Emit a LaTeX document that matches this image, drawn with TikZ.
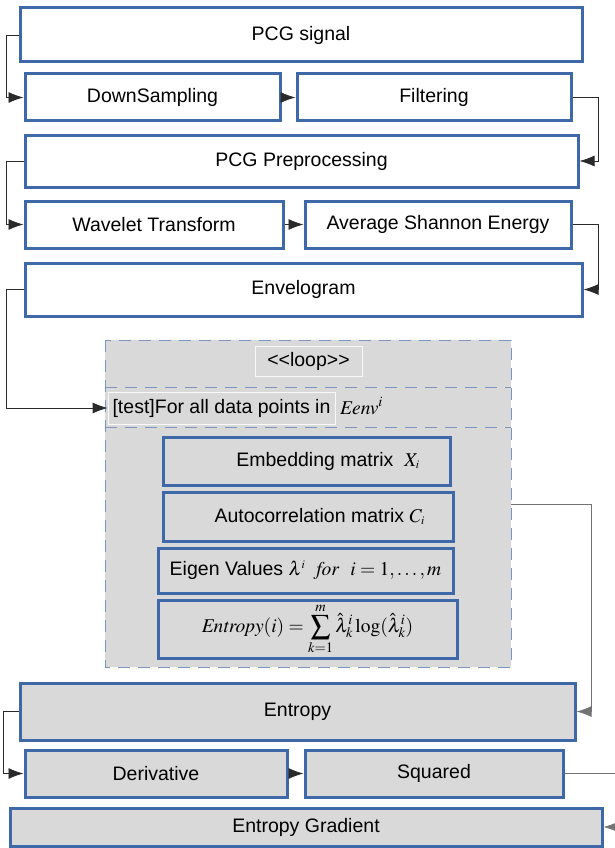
\documentclass[tikz,border=0pt]{standalone}
\usepackage{mathptmx}
\usepackage[no-math]{fontspec}
\setmainfont{Liberation Sans}
\usetikzlibrary{arrows.meta}
\definecolor{bblue}{HTML}{3F68A8}
\definecolor{gfill}{HTML}{D9D9D9}
\definecolor{dashc}{HTML}{7A96BE}
\definecolor{lnc}{HTML}{2A2A2A}
\newcommand\bx[7]{\node[#7, minimum width={(#4-#2)*1pt}, minimum height={(#5-#3)*1pt}] (#1) at ({(#2+#4)/2},{(#3+#5)/2}) {#6};}
\tikzset{
  wbox/.style={draw=bblue, line width=3pt, fill=white, inner sep=0pt, font=\fontsize{19.5}{23}\selectfont},
  gbox/.style={wbox, fill=gfill},
  lbox/.style={draw=white!95!gray, line width=0.8pt, fill=gfill, inner sep=0pt, font=\fontsize{19.5}{23}\selectfont},
  conn/.style={draw=lnc, line width=0.8pt, -{Latex[length=15pt,width=11pt]}},
  gconn/.style={conn, draw=gray!90!black}
}
\begin{document}
\begin{tikzpicture}[x=1pt,y=-1pt]
\useasboundingbox (0,0) rectangle (615,848);
% top part
\bx{sig}{20}{8}{582}{62}{PCG signal}{wbox}
\bx{down}{25}{74}{280}{121}{DownSampling}{wbox}
\bx{filt}{297}{74}{571}{121}{Filtering}{wbox}
\bx{pre}{25}{135}{578}{187}{PCG Preprocessing}{wbox}
\bx{wav}{25}{201}{283}{248}{Wavelet Transform}{wbox}
\bx{ase}{305}{201}{571}{248}{Average Shannon Energy}{wbox}
\bx{env}{25}{263}{582}{316}{Envelogram}{wbox}
% loop frame
\fill[gfill] (105,340) rectangle (511,667);
\draw[dashc, line width=0.8pt, dash pattern=on 12pt off 8pt] (105,340) rectangle (511,667);
\draw[dashc, line width=0.8pt, dash pattern=on 12pt off 8pt] (105,387) -- (511,387);
\draw[dashc, line width=0.8pt, dash pattern=on 12pt off 8pt] (105,427) -- (511,427);
\coordinate (loopR) at (511,504);
\bx{loop}{255}{346}{362}{376}{<{}<loop>{}>}{lbox}
\bx{test}{108}{392}{335}{424}{[test]For all data points in}{lbox}
\node[anchor=west, inner sep=0pt, font=\fontsize{19.5}{23}\selectfont] (eenv) at (340,406) {$\mathit{Eenv}^i$};
\bx{emb}{163}{437}{450}{485}{\hspace{2.2em}Embedding matrix\ \ $X_{\scriptscriptstyle i}$}{gbox}
\bx{aut}{163}{492}{453}{541}{\hspace{1.2em}Autocorrelation matrix\ $C_{\scriptscriptstyle i}$}{gbox}
\bx{eig}{158}{548}{453}{593}{Eigen Values $\lambda^{\scriptscriptstyle i}$\ \ $\mathit{for}\ \ i=1,\ldots,m$}{gbox}
\bx{ent}{158}{600}{457}{658}{\fontsize{19.5}{22}\selectfont$\mathit{Entropy}(i)=\displaystyle\sum_{k=1}^{m}\hat{\lambda}_k^i\log(\hat{\lambda}_k^i)$}{gbox}
% bottom part
\bx{entr}{20}{683}{575}{740}{Entropy}{gbox}
\bx{der}{25}{750}{287}{797}{Derivative}{gbox}
\bx{sq}{305}{750}{563}{797}{Squared}{gbox}
\bx{grad}{10}{808}{602}{846}{Entropy Gradient}{gbox}
% connectors
\draw[conn] (sig.west) -- ++(-12,0) |- (down.west);
\draw[conn] (down.east) -- (filt.west);
\draw[conn] (filt.east) -- ++(26,0) |- (pre.east);
\draw[conn] (pre.west) -- ++(-17,0) |- (wav.west);
\draw[conn] (wav.east) -- (ase.west);
\draw[conn] (ase.east) -- ++(26,0) |- (env.east);
\draw[conn] (env.west) -- ++(-17,0) |- (test.west);
\draw[gconn] (loopR) -- ++(80,0) |- (entr.east);
\draw[conn] (entr.west) -- ++(-15,0) |- (der.west);
\draw[conn] (der.east) -- (sq.west);
\draw[gconn] (sq.east) -- ++(60,0) |- (grad.east);
\end{tikzpicture}
\end{document}
